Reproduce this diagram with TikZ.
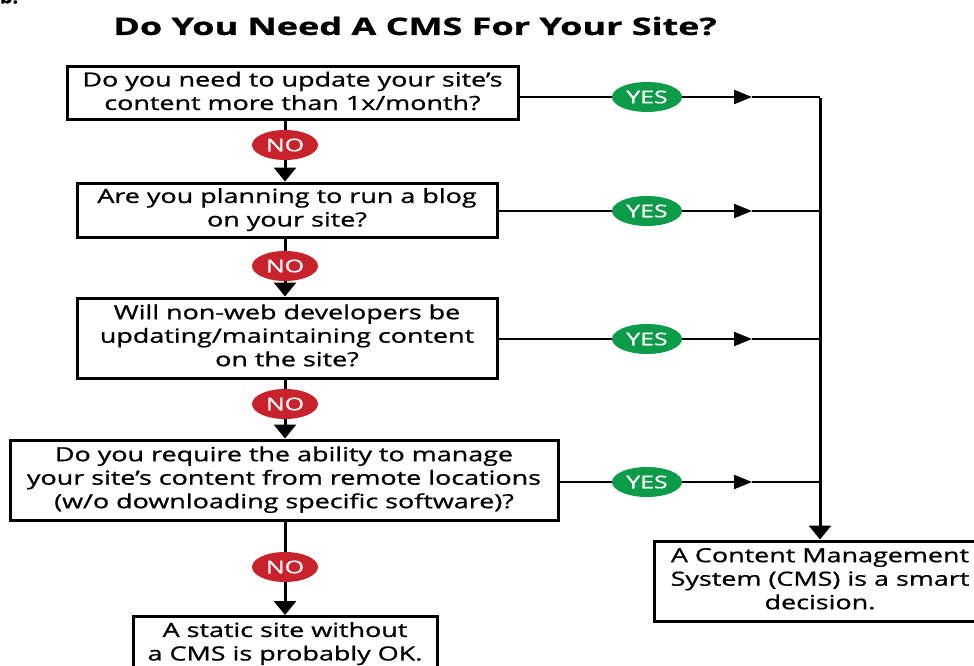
\documentclass[tikz,border=0pt]{standalone}
\usepackage{fontspec}
\usepackage{graphicx}
\setmainfont[FakeBold=0.8]{Open Sans}
\usetikzlibrary{shapes.geometric,arrows.meta}
\definecolor{nored}{HTML}{C8232C}
\definecolor{yesgreen}{HTML}{0E9B49}
\newcommand\widetext[1]{\scalebox{1.38}[1]{\begin{tabular}{@{}c@{}}#1\end{tabular}}}
\newcommand\widebadge[1]{\scalebox{1.42}[1]{#1}}
\tikzset{
  qbox/.style={draw=black,line width=3pt,inner sep=0pt,font=\fontsize{19.5}{23.5}\selectfont,text=black},
  nobadge/.style={ellipse,fill=nored,minimum width=66pt,minimum height=30pt,inner sep=0pt,text=white,font=\fontsize{17.5}{17.5}\selectfont},
  yesbadge/.style={ellipse,fill=yesgreen,minimum width=70pt,minimum height=30pt,inner sep=0pt,text=white,font=\fontsize{17.5}{17.5}\selectfont},
  conn/.style={line width=2pt},
  trunk/.style={line width=3pt},
  downarrow/.style={-{Triangle[width=22pt,length=14pt]}},
  rightarrow/.style={-{Triangle[width=14pt,length=18pt]}}
}
\begin{document}
\begin{tikzpicture}[x=1pt,y=-1pt]
\useasboundingbox (0,0) rectangle (974,666);
\clip (0,0) rectangle (974,666);
\node[font=\fontsize{20}{20}\selectfont\bfseries] (corner) at (9,-4) {b.};
\node[font=\fontsize{24}{24}\selectfont\bfseries] (title) at (415,26) {\scalebox{1.5}[1]{Do You Need A CMS For Your Site?}};
% question boxes
\node[qbox,minimum width=451pt,minimum height=53pt] (q1) at (292.5,93.5) {\widetext{Do you need to update your site’s\\content more than 1x/month?}};
\node[qbox,minimum width=420pt,minimum height=54pt] (q2) at (287,210) {\widetext{Are you planning to run a blog\\on your site?}};
\node[qbox,minimum width=420pt,minimum height=80pt] (q3) at (287,338) {\widetext{Will non-web developers be\\updating/maintaining content\\on the site?}};
\node[qbox,minimum width=548pt,minimum height=80pt] (q4) at (284,480) {\widetext{Do you require the ability to manage\\your site’s content from remote locations\\(w/o downloading specific software)?}};
\node[qbox,minimum width=304pt,anchor=north,inner ysep=4pt] (static) at (285,615) {\widetext{A static site without\\a CMS is probably OK.}};
\node[qbox,minimum width=332pt,minimum height=80pt] (cms) at (820,581) {\widetext{A Content Management\\System (CMS) is a smart\\decision.}};
% NO badges
\node[nobadge] (no1) at (285,145) {\widebadge{NO}};
\node[nobadge] (no2) at (285,266) {\widebadge{NO}};
\node[nobadge] (no3) at (285,404) {\widebadge{NO}};
\node[nobadge] (no4) at (285,567) {\widebadge{NO}};
% YES badges
\node[yesbadge] (yes1) at (647,97) {\widebadge{YES}};
\node[yesbadge] (yes2) at (647,211) {\widebadge{YES}};
\node[yesbadge] (yes3) at (647,339) {\widebadge{YES}};
\node[yesbadge] (yes4) at (647,482) {\widebadge{YES}};
% junction coordinates
\coordinate (a1) at (752,97);
\coordinate (a2) at (752,211);
\coordinate (a3) at (752,339);
\coordinate (a4) at (752,482);
\coordinate (j1) at (820,97);
\coordinate (j2) at (820,211);
\coordinate (j3) at (820,339);
\coordinate (j4) at (820,482);
% NO chain
\draw[trunk] (no1 |- q1.south) -- (no1);
\draw[trunk,downarrow] (no1) -- (no1 |- q2.north);
\draw[trunk] (no2 |- q2.south) -- (no2);
\draw[trunk,downarrow] (no2) -- (no2 |- q3.north);
\draw[trunk] (no3 |- q3.south) -- (no3);
\draw[trunk,downarrow] (no3) -- (no3 |- q4.north);
\draw[trunk] (no4 |- q4.south) -- (no4);
\draw[trunk,downarrow] (no4) -- (no4 |- static.north);
% YES branches
\foreach \i in {1,2,3,4}{
  \draw[conn] (q\i.east |- yes\i) -- (yes\i);
  \draw[conn,rightarrow] (yes\i) -- (a\i);
  \draw[conn] (a\i) -- (j\i);
}
\draw[trunk] ([yshift=-1pt]j1) -- (j4);
\draw[trunk,downarrow] (j4) -- (cms.north);
\end{tikzpicture}
\end{document}
